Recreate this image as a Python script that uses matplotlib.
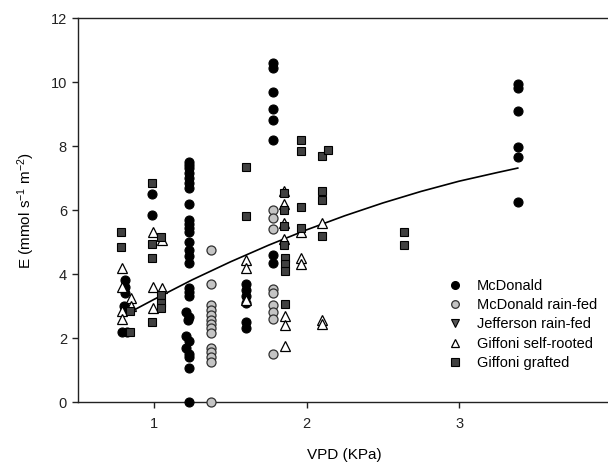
import matplotlib
matplotlib.use("Agg")
import matplotlib.pyplot as plt
from matplotlib.lines import Line2D

plt.rcParams['font.family'] = ['Liberation Sans', 'DejaVu Sans']
plt.rcParams['mathtext.fontset'] = 'custom'
plt.rcParams['mathtext.rm'] = 'Liberation Sans'
plt.rcParams['mathtext.it'] = 'Liberation Sans'

# ---------------- data ----------------
mcd_x = [0.81, 0.81, 0.81, 0.80, 0.81, 0.79, 0.82,
         0.985, 0.985,
         1.23, 1.23, 1.23, 1.23, 1.23, 1.23, 1.23, 1.23, 1.23, 1.23, 1.23, 1.23, 1.23, 1.23,
         1.23, 1.23, 1.23, 1.23, 1.23, 1.21, 1.23, 1.22, 1.21, 1.23, 1.21, 1.23, 1.23, 1.23,
         1.23,
         1.60, 1.60, 1.60, 1.60, 1.60, 1.60,
         1.78, 1.78, 1.78, 1.78, 1.78, 1.78, 1.78, 1.78,
         3.385, 3.385, 3.385, 3.385, 3.385, 3.385]
mcd_y = [3.8, 3.6, 3.4, 3.0, 2.9, 2.2, 2.2,
         6.5, 5.85,
         7.5, 7.4, 7.3, 7.15, 7.0, 6.85, 6.7, 6.2, 5.7, 5.55, 5.45, 5.3, 5.0, 4.75,
         4.55, 4.35, 3.55, 3.45, 3.3, 2.8, 2.65, 2.55, 2.05, 1.9, 1.7, 1.5, 1.4, 1.05,
         0.0,
         3.7, 3.5, 3.3, 3.1, 2.5, 2.3,
         10.6, 10.45, 9.7, 9.15, 8.8, 8.2, 4.6, 4.33,
         9.93, 9.8, 9.1, 7.97, 7.67, 6.25]

rf_x = [1.37] * 14 + [1.78] * 9
rf_y = [4.75, 3.7, 3.03, 2.88, 2.72, 2.57, 2.45, 2.3, 2.15, 1.7, 1.55, 1.4, 1.25, 0.0,
        6.0, 5.75, 5.4, 3.52, 3.4, 3.03, 2.8, 2.58, 1.5]

jef_x = []
jef_y = []

gsr_x = [0.79, 0.79, 0.79, 0.79, 0.85, 0.85,
         0.99, 0.99, 0.99, 1.05, 1.05,
         1.605, 1.605, 1.605,
         1.85, 1.85, 1.85, 1.85, 1.86, 1.86, 1.86,
         1.96, 1.96, 1.96,
         2.10, 2.10, 2.10]
gsr_y = [4.2, 3.6, 2.85, 2.6, 3.25, 3.0,
         5.3, 3.6, 2.95, 5.05, 3.55,
         4.44, 4.18, 3.2,
         6.6, 6.2, 5.6, 5.1, 2.7, 2.4, 1.75,
         5.3, 4.5, 4.3,
         5.6, 2.55, 2.45]

gg_x = [0.78, 0.78, 0.84, 0.84,
        0.985, 0.985, 0.985, 0.985, 1.045, 1.045, 1.045, 1.045,
        1.605, 1.605,
        1.85, 1.85, 1.85, 1.85, 1.86, 1.86, 1.86, 1.86,
        1.96, 1.96, 1.96, 1.96,
        2.10, 2.10, 2.10, 2.10, 2.14,
        2.64, 2.64]
gg_y = [5.3, 4.85, 2.85, 2.2,
        6.85, 4.95, 4.5, 2.5, 5.15, 3.35, 3.1, 2.95,
        7.33, 5.8,
        6.53, 6.0, 5.5, 4.9, 4.5, 4.3, 4.1, 3.06,
        8.2, 7.85, 6.1, 5.45,
        7.7, 6.6, 6.3, 5.2, 7.88,
        5.3, 4.9]

# fitted curve, read along its length
fit_x = [0.83, 1.0, 1.25, 1.5, 1.75, 2.0, 2.25, 2.5, 2.75, 3.0, 3.25, 3.385]
fit_y = [2.78, 3.21, 3.82, 4.38, 4.90, 5.38, 5.82, 6.22, 6.58, 6.90, 7.17, 7.31]

series_labels = ["McDonald", "McDonald rain-fed", "Jefferson rain-fed",
                 "Giffoni self-rooted", "Giffoni grafted"]
x_ticks = [1, 2, 3, 4]
y_ticks = [0, 2, 4, 6, 8, 10, 12]

# ---------------- figure ----------------
W, H = 608, 466
fig = plt.figure(figsize=(W / 100, H / 100), dpi=100)
ax = fig.add_axes([78 / W, (H - 402) / H, (611.5 - 78) / W, 384 / H])

ms = 6.5
ax.plot(fit_x, fit_y, color='black', lw=1.2, zorder=2)
ax.plot(mcd_x, mcd_y, 'o', ms=ms, mfc='black', mec='black', mew=0.8, zorder=3, clip_on=False)
ax.plot(rf_x, rf_y, 'o', ms=ms, mfc='#c4c4c4', mec='#303030', mew=0.9, zorder=3, clip_on=False)
ax.plot(jef_x, jef_y, 'v', ms=ms, mfc='#555555', mec='black', mew=0.8, zorder=3)
ax.plot(gsr_x, gsr_y, '^', ms=7, mfc='white', mec='black', mew=0.9, zorder=4)
ax.plot(gg_x, gg_y, 's', ms=6.3, mfc='#404040', mec='black', mew=0.8, zorder=5)

ax.set_xlim(0.5, 4.0)
ax.set_ylim(0, 12)
ax.set_xticks(x_ticks)
ax.set_yticks(y_ticks)
ax.tick_params(direction='out', length=4, width=1, labelsize=10.5, colors='#222222', pad=4)
ax.tick_params(axis='x', pad=7)
for s in ax.spines.values():
    s.set_linewidth(1.0)
    s.set_color('#222222')

ax.set_xlabel("VPD (KPa)", fontsize=11, labelpad=12)
ax.set_ylabel(r"E (mmol s$^{\mathregular{-1}}$ m$^{\mathregular{-2}}$)", fontsize=11, labelpad=10)

handles = [
    Line2D([], [], ls='none', marker='o', ms=5.5, mfc='black', mec='black'),
    Line2D([], [], ls='none', marker='o', ms=5.5, mfc='#c4c4c4', mec='#303030', mew=0.9),
    Line2D([], [], ls='none', marker='v', ms=6, mfc='#555555', mec='black', mew=0.8),
    Line2D([], [], ls='none', marker='^', ms=6, mfc='white', mec='black', mew=0.9),
    Line2D([], [], ls='none', marker='s', ms=5.5, mfc='#404040', mec='black', mew=0.8),
]
leg = ax.legend(handles, series_labels, loc='upper left',
                bbox_to_anchor=(448 / W, (H - 279) / H), bbox_transform=fig.transFigure,
                frameon=False, fontsize=10.5, handlelength=1.0, handletextpad=1.0,
                labelspacing=0.36, borderpad=0, borderaxespad=0)

fig.savefig("out.png", dpi=100)
